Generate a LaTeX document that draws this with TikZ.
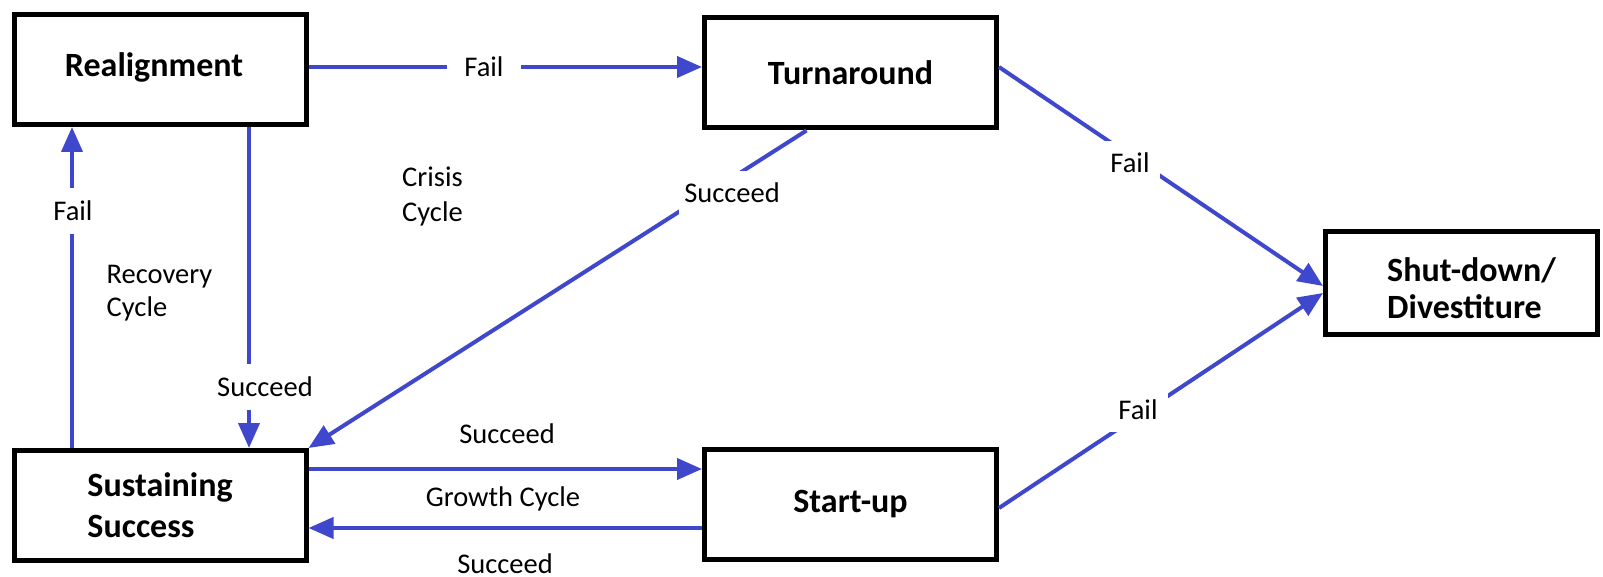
\documentclass[tikz,border=0pt]{standalone}
\usepackage{fontspec}
\setmainfont{Carlito}
\usetikzlibrary{arrows.meta}
\definecolor{flowblue}{RGB}{63,72,204}
\begin{document}
\begin{tikzpicture}[x=1pt,y=-1pt,
  stage/.style={draw=black, line width=5pt, minimum width=292pt, minimum height=110pt,
    font=\fontsize{34}{41}\selectfont\bfseries, align=left, inner sep=0pt},
  stagetext/.style={font=\fontsize{34}{37}\selectfont\bfseries, align=left, inner sep=0pt},
  flow/.style={draw=flowblue, line width=4pt},
  arr/.style={flow, -{Triangle[length=25pt,width=21pt]}},
  lbl/.style={font=\fontsize{28.5}{34}\selectfont, inner sep=0pt},
  cut/.style={lbl, fill=white, inner xsep=8pt, inner ysep=12pt}]
\fill[white] (0,0) rectangle (1603,577);
\useasboundingbox (0,0) rectangle (1603,577);

% stages
\node[stage, label={[stagetext, name=realtext, xshift=-6pt, yshift=2pt]center:Realignment}] (real) at (160,69.5) {};
\node[stage] (turn)  at (850.5,73)   {Turnaround};
\node[stage] (sust)  at (160,505.5)  {Sustaining\\Success};
\node[stage] (start) at (850.5,504.5) {Start-up};
\node[stage, minimum width=272pt, minimum height=103pt,
      label={[stagetext, name=shuttext, xshift=10pt, yshift=-5pt]center:Shut-down/\\Divestiture}] (shut) at (1461.5,283) {};

% transitions
\draw[arr] ([yshift=2.5pt]real.east) -- ([yshift=2.5pt]real.east -| turn.west);
\draw[arr] ([xshift=-88pt]sust.north) -- ([xshift=-88pt]real.south);
\draw[arr] ([xshift=89pt]real.south) -- ([xshift=89pt]sust.north);
\draw[arr] ([xshift=-44pt]turn.south) -- (sust.north east);
\draw[arr] ([yshift=6pt]turn.east) -- ([yshift=-3pt]shut.west);
\draw[arr] ([yshift=-3.5pt]start.east) -- ([yshift=-10pt]shut.west);
\draw[arr] ([yshift=36.5pt]sust.east) -- ([yshift=36.5pt]sust.east -| start.west);
\draw[arr] ([yshift=-22.5pt]sust.east -| start.west) -- ([yshift=-22.5pt]sust.east);

% transition labels
\node[cut, inner xsep=17pt, inner ysep=6pt] (failtop) at (484,67) {Fail};
\node[cut, inner ysep=13pt] (failleft) at (73,211) {Fail};
\node[cut, inner xsep=4pt, inner ysep=13pt] (succdown) at (265,387) {Succeed};
\node[cut, inner xsep=5pt] (succdiag) at (732,193) {Succeed};
\node[cut, inner xsep=10pt] (failup) at (1130,163) {Fail};
\node[cut, inner xsep=10pt] (faillow) at (1138,410) {Fail};
\node[lbl] (succgo) at (507,434) {Succeed};
\node[lbl] (growth) at (503,499) {Growth Cycle};
\node[lbl] (succback) at (505,564) {Succeed};

% cycle names
\node[lbl, anchor=west, align=left, font=\fontsize{28.5}{35}\selectfont] (crisis) at (402,196) {Crisis\\Cycle};
\node[lbl, anchor=west, align=left, font=\fontsize{28.5}{33}\selectfont] (recovery) at (106.5,293) {Recovery\\Cycle};
\end{tikzpicture}
\end{document}
